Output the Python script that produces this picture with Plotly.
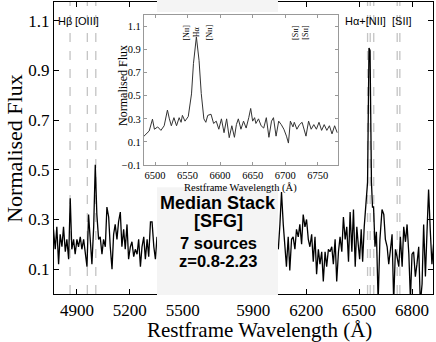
import plotly.graph_objects as go

# main stacked spectrum, blue part (left of the masked gap)
wave_blue = [4767, 4777, 4786, 4796, 4805, 4815, 4824, 4834, 4843, 4853,
             4862, 4871, 4881, 4890, 4900, 4909, 4919, 4928, 4938, 4947,
             4957, 4966, 4976, 4985, 4995, 5004, 5013, 5023, 5032, 5042,
             5051, 5061, 5070, 5080, 5089, 5099, 5108, 5117, 5127, 5136,
             5146, 5155, 5165, 5174, 5184, 5193, 5203, 5212, 5222, 5231,
             5241, 5250, 5260, 5269, 5279, 5288, 5298, 5307, 5317, 5326,
             5336, 5345, 5354]
flux_blue = [0.26, 0.18, 0.27, 0.12, 0.24, 0.19, 0.27, 0.17, 0.22, 0.14,
             0.385, 0.18, 0.22, 0.16, 0.22, 0.19, 0.23, 0.18, 0.22, 0.16,
             0.11, 0.32, 0.22, 0.12, 0.27, 0.52, 0.32, 0.22, 0.23, 0.16,
             0.22, 0.19, 0.35, 0.31, 0.19, 0.10, 0.24, 0.28, 0.22, 0.29,
             0.33, 0.19, 0.26, 0.18, 0.28, 0.14, 0.19, 0.21, 0.15, 0.18,
             0.16, 0.22, 0.11, 0.19, 0.23, 0.14, 0.22, 0.15, 0.29, 0.29,
             0.19, 0.14, 0.23]

# main stacked spectrum, red part (right of the masked gap)
wave_red = [6036, 6042, 6051, 6060, 6070, 6079, 6088, 6098, 6107, 6117,
            6126, 6136, 6145, 6155, 6164, 6174, 6183, 6193, 6202, 6212,
            6221, 6231, 6240, 6250, 6259, 6269, 6278, 6288, 6297, 6307,
            6316, 6326, 6335, 6345, 6354, 6364, 6373, 6383, 6392, 6402,
            6411, 6421, 6430, 6440, 6449, 6459, 6468, 6478, 6487, 6495,
            6503, 6512, 6520, 6529, 6540, 6548, 6556, 6562, 6570, 6576,
            6582, 6590, 6598, 6608, 6618, 6630, 6640, 6649, 6659, 6668,
            6678, 6687, 6696, 6706, 6715, 6725, 6734, 6744, 6753, 6763,
            6772, 6782, 6791, 6800, 6809, 6819, 6828, 6838, 6847, 6857,
            6866, 6876, 6885, 6894, 6904, 6913, 6922]
flux_red = [0.20, 0.18, 0.28, 0.41, 0.28, 0.21, 0.11, 0.23, 0.095, 0.22,
            0.23, 0.18, 0.26, 0.23, 0.28, 0.20, 0.32, 0.27, 0.30, 0.22,
            0.19, 0.24, 0.13, 0.23, 0.08, 0.18, 0.12, 0.17, 0.05, 0.17,
            0.11, 0.18, 0.17, 0.19, 0.12, 0.22, 0.05, 0.17, 0.23, 0.17,
            0.31, 0.22, 0.27, 0.13, 0.33, 0.17, 0.34, 0.11, 0.27, 0.20,
            0.14, 0.26, 0.13, 0.27, 0.36, 0.45, 0.99, 0.98, 0.45, 0.35,
            0.35, 0.19, 0.25, -0.03, 0.22, 0.34, 0.32, 0.22, 0.19, 0.12,
            0.18, 0.24, -0.03, 0.18, 0.15, 0.11, 0.23, 0.11, 0.27, 0.21,
            0.28, 0.16, -0.02, 0.16, 0.17, 0.07, 0.12, 0.19, -0.04, 0.04,
            0.28, 0.07, 0.25, 0.42, 0.25, 0.12, 0.20]

# inset: zoom on Halpha + [NII] + [SII]
wave_zoom = [6483, 6491, 6496, 6499, 6504, 6509, 6514, 6519, 6522, 6525,
             6529, 6533, 6537, 6540, 6542, 6546, 6551, 6556, 6559, 6563.5,
             6567.6, 6571, 6575, 6578, 6581, 6586, 6590, 6594, 6598, 6602,
             6606, 6610, 6614, 6618, 6622, 6625, 6628, 6632, 6636, 6640,
             6644, 6647, 6650, 6653, 6655, 6659, 6663, 6667, 6671, 6675,
             6679, 6682, 6686, 6690, 6694, 6698, 6702, 6705, 6708, 6712,
             6714, 6718, 6722, 6726, 6732, 6736, 6740, 6744, 6748, 6752,
             6756, 6760, 6764, 6768, 6772, 6776, 6780]
flux_zoom = [0.15, 0.195, 0.297, 0.21, 0.23, 0.20, 0.24, 0.376, 0.30, 0.24,
             0.31, 0.24, 0.31, 0.27, 0.33, 0.28, 0.32, 0.516, 0.778, 1.01,
             0.807, 0.52, 0.30, 0.27, 0.33, 0.34, 0.26, 0.28, 0.21, 0.30,
             0.18, 0.30, 0.137, 0.24, 0.14, 0.25, 0.30, 0.21, 0.28, 0.22,
             0.31, 0.39, 0.28, 0.31, 0.26, 0.30, 0.24, 0.22, 0.31, 0.14,
             0.28, 0.31, 0.15, 0.28, 0.25, 0.21, 0.15, 0.09, 0.28, 0.23,
             0.27, 0.21, 0.25, 0.27, 0.15, 0.28, 0.21, 0.25, 0.21, 0.27,
             0.20, 0.25, 0.20, 0.24, 0.17, 0.24, 0.18]

main_lines = [4861, 4959, 5007, 6548, 6563, 6583, 6716, 6731]
main_labels = ['Hβ', '[OIII]', 'Hα+[NII]', '[SII]']
main_label_x = [4830, 4956, 6534, 6746]

zoom_lines = [6548, 6563, 6583, 6716, 6731]
zoom_labels = ['[Nɪɪ]', 'Hα', '[Nɪɪ]', '[Sɪɪ]', '[Sɪɪ]']

gap = [5354, 6040]   # masked wavelength range hidden by the text box

x_ticks = [4900, 5200, 5500, 5900, 6200, 6500, 6800]
y_ticks = [0.1, 0.3, 0.5, 0.7, 0.9, 1.1]
zoom_x_ticks = [6500, 6550, 6600, 6650, 6700, 6750]
zoom_y_ticks = [-0.1, 0.1, 0.3, 0.5, 0.7, 0.9, 1.1]

box_text = ['Median Stack', '[SFG]', '7 sources', 'z=0.8-2.23']

SERIF = 'Liberation Serif'
SANS = 'Liberation Sans'

fig = go.Figure()

fig.add_trace(go.Scatter(
    x=wave_blue + [None] + wave_red,
    y=flux_blue + [None] + flux_red,
    mode='lines', line=dict(color='black', width=1.3),
    xaxis='x', yaxis='y', showlegend=False
))

fig.add_trace(go.Scatter(
    x=wave_zoom, y=flux_zoom,
    mode='lines', line=dict(color='#333333', width=1),
    xaxis='x2', yaxis='y2', showlegend=False
))

shapes = []
for w in main_lines:
    shapes.append(dict(type='line', xref='x', yref='y domain', x0=w, x1=w, y0=0, y1=1,
                       line=dict(color='#c4c4c4', width=1.3, dash='dash'), layer='below'))
for w in zoom_lines:
    shapes.append(dict(type='line', xref='x2', yref='y2 domain', x0=w, x1=w, y0=0, y1=1,
                       line=dict(color='#b0b0b0', width=1.3, dash='dot'), layer='below'))
# light box over the gap (split so the inset stays on top)
shapes.append(dict(type='rect', xref='x', yref='paper', x0=gap[0], x1=gap[1], y0=-0.003, y1=0.366,
                   fillcolor='#f4f4f4', line=dict(width=0), layer='above'))
shapes.append(dict(type='rect', xref='x', yref='paper', x0=gap[0], x1=gap[1], y0=0.966, y1=1.01,
                   fillcolor='#f4f4f4', line=dict(width=0), layer='above'))

annotations = []
for lab, lx in zip(main_labels, main_label_x):
    annotations.append(dict(x=lx, y=1.099, xref='x', yref='y', text=lab, showarrow=False,
                            xanchor='center', yanchor='middle',
                            font=dict(family=SANS, size=11, color='black')))
for lab, lx in zip(zoom_labels, zoom_lines):
    annotations.append(dict(x=lx, y=1.05, xref='x2', yref='y2', text=lab, showarrow=False,
                            textangle=-90, xanchor='center', yanchor='middle',
                            font=dict(family=SERIF, size=8, color='black')))

box_y = [0.367, 0.294, 0.206, 0.134]
box_size = [18, 18, 16.5, 16.5]
for t, by, bs in zip(box_text, box_y, box_size):
    annotations.append(dict(x=5700, y=by, xref='x', yref='y', text='<b>' + t + '</b>',
                            showarrow=False, xanchor='center', yanchor='middle',
                            font=dict(family=SANS, size=bs, color='black')))

# axis titles
annotations.append(dict(x=-0.106, y=0.5, xref='paper', yref='paper', text='Normalised Flux',
                        textangle=-90, showarrow=False, xanchor='center', yanchor='middle',
                        font=dict(family=SERIF, size=22, color='black')))
annotations.append(dict(x=0.541, y=-0.124, xref='paper', yref='paper', text='Restframe Wavelength (Å)',
                        showarrow=False, xanchor='center', yanchor='middle',
                        font=dict(family=SERIF, size=21, color='black')))
annotations.append(dict(x=0.182, y=0.716, xref='paper', yref='paper', text='Normalised Flux',
                        textangle=-90, showarrow=False, xanchor='center', yanchor='middle',
                        font=dict(family=SERIF, size=12, color='black')))
annotations.append(dict(x=0.493, y=0.364, xref='paper', yref='paper', text='Restframe Wavelength (Å)',
                        showarrow=False, xanchor='center', yanchor='middle',
                        font=dict(family=SERIF, size=10.5, color='black')))

fig.update_layout(
    width=436, height=342,
    margin=dict(l=54, r=3, t=2, b=48),
    paper_bgcolor='white', plot_bgcolor='white',
    showlegend=False,
    xaxis=dict(range=[4770, 6919], tickvals=x_ticks, ticks='inside', ticklen=5,
               tickcolor='black', showline=True, linecolor='black', linewidth=1.2,
               mirror='allticks', showgrid=False, zeroline=False,
               tickfont=dict(family=SERIF, size=17, color='black')),
    yaxis=dict(range=[0, 1.175], tickvals=y_ticks, ticks='inside', ticklen=5,
               tickcolor='black', showline=True, linecolor='black', linewidth=1.2,
               mirror='allticks', showgrid=False, zeroline=False,
               tickfont=dict(family=SERIF, size=17, color='black')),
    xaxis2=dict(domain=[0.2375, 0.749], anchor='y2', range=[6483, 6781],
                tickvals=zoom_x_ticks, ticks='inside', ticklen=3, tickcolor='#999999',
                showline=True, linecolor='#999999', linewidth=1.2, mirror='allticks',
                showgrid=False, zeroline=False,
                tickfont=dict(family=SERIF, size=10.5, color='black')),
    yaxis2=dict(domain=[0.4418, 0.9555], anchor='x2', range=[-0.1, 1.2],
                tickvals=zoom_y_ticks, ticks='inside', ticklen=3, tickcolor='#999999',
                showline=True, linecolor='#999999', linewidth=1.2, mirror='allticks',
                showgrid=False, zeroline=False,
                tickfont=dict(family=SERIF, size=10.5, color='black')),
    shapes=shapes,
    annotations=annotations,
)

# drop the default 8px page margin so the figure sits at the window's corner
fig.write_html("out.html", config={'displayModeBar': False},
               post_script="document.body.style.margin='0';")
